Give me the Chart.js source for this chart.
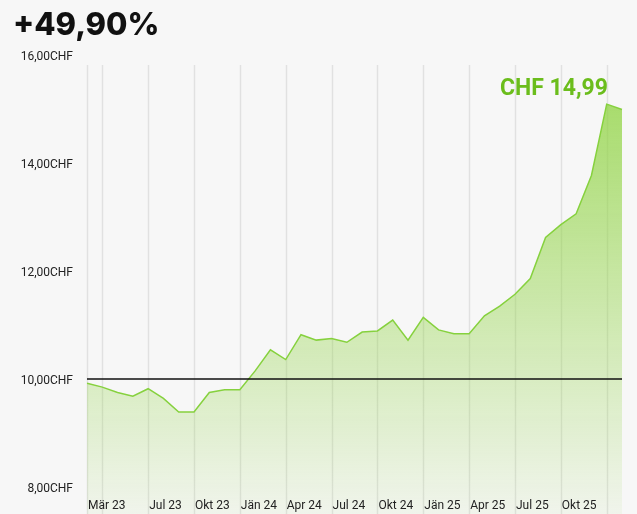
<!DOCTYPE html>
<html>
<head>
<meta charset="utf-8">
<script src="https://cdn.jsdelivr.net/npm/chart.js@4.4.1/dist/chart.umd.min.js"></script>
<style>
  html, body { margin: 0; padding: 0; background: #f7f7f7; }
  #wrap { position: relative; width: 637px; height: 514px; overflow: hidden; }
  canvas { position: absolute; left: 0; top: 0; }
</style>
</head>
<body>
<div id="wrap">
  <canvas id="chart" width="637" height="514"></canvas>
</div>
<script>
// monthly closing prices, Mär 23 .. Feb 26
const months = [
  "Mär 23", "Apr 23", "Mai 23", "Jun 23", "Jul 23", "Aug 23", "Sep 23", "Okt 23", "Nov 23", "Dez 23",
  "Jän 24", "Feb 24", "Mär 24", "Apr 24", "Mai 24", "Jun 24", "Jul 24", "Aug 24", "Sep 24", "Okt 24", "Nov 24", "Dez 24",
  "Jän 25", "Feb 25", "Mär 25", "Apr 25", "Mai 25", "Jun 25", "Jul 25", "Aug 25", "Sep 25", "Okt 25", "Nov 25", "Dez 25",
  "Jän 26", "Feb 26"
];
const prices = [
  9.92, 9.85, 9.75, 9.68, 9.82, 9.64, 9.39, 9.39, 9.75, 9.80,
  9.80, 10.15, 10.54, 10.36, 10.82, 10.72, 10.75, 10.68, 10.87, 10.89, 11.09, 10.72,
  11.14, 10.91, 10.84, 10.84, 11.17, 11.35, 11.57, 11.86, 12.62, 12.86, 13.06, 13.77,
  15.09, 14.99
];
const tickLabels = ["Mär 23", "Jul 23", "Okt 23", "Jän 24", "Apr 24", "Jul 24", "Okt 24", "Jän 25", "Apr 25", "Jul 25", "Okt 25"];
const gridMonths = ["Mär 23", "Apr 23", "Jul 23", "Okt 23", "Jän 24", "Apr 24", "Jul 24", "Okt 24", "Jän 25", "Apr 25", "Jul 25", "Okt 25", "Jän 26"];
const yTicks = [8, 10, 12, 14, 16];
const baseline = 10;
const title = "+49,90%";
const lastLabel = "CHF 14,99";

const green = "#86d13e";

// vertical month lines, baseline and the texts
const extras = {
  id: "extras",
  beforeDatasetsDraw(chart) {
    const { ctx, chartArea, scales } = chart;
    ctx.save();
    ctx.strokeStyle = "rgba(0,0,0,0.085)";
    ctx.lineWidth = 1.5;
    gridMonths.forEach(m => {
      const x = Math.round(scales.x.getPixelForValue(months.indexOf(m))) + 0.5;
      ctx.beginPath();
      ctx.moveTo(x, chartArea.top + 10);
      ctx.lineTo(x, chartArea.bottom);
      ctx.stroke();
    });
    ctx.restore();
  },
  afterDatasetsDraw(chart) {
    const { ctx, chartArea, scales } = chart;
    ctx.save();
    // 10 CHF reference line
    const y0 = scales.y.getPixelForValue(baseline);
    ctx.strokeStyle = "#111";
    ctx.lineWidth = 1.5;
    ctx.beginPath();
    ctx.moveTo(chartArea.left, y0);
    ctx.lineTo(chartArea.right, y0);
    ctx.stroke();

    // month labels inside the plot
    ctx.fillStyle = "#222";
    ctx.font = "12px Roboto, sans-serif";
    ctx.textAlign = "left";
    ctx.textBaseline = "alphabetic";
    tickLabels.forEach(m => {
      const x = scales.x.getPixelForValue(months.indexOf(m));
      ctx.fillText(m, x + 1, chartArea.bottom - 5);
    });

    // last value label
    const last = prices.length - 1;
    const lx = scales.x.getPixelForValue(last) - 14;
    const ly = scales.y.getPixelForValue(Math.max(...prices)) - 9;
    ctx.fillStyle = "#6bbd1c";
    ctx.font = "bold 23px Roboto, sans-serif";
    ctx.textAlign = "right";
    ctx.fillText(lastLabel, lx, ly);

    // headline
    ctx.fillStyle = "#111";
    ctx.font = "800 31px Inter, sans-serif";
    ctx.textAlign = "left";
    ctx.fillText(title, 13, 35);
    ctx.restore();
  }
};

new Chart(document.getElementById("chart"), {
  type: "line",
  data: {
    labels: months,
    datasets: [{
      data: prices,
      borderColor: green,
      borderWidth: 1.5,
      pointRadius: 0,
      tension: 0,
      fill: "start",
      backgroundColor: (c) => {
        const area = c.chart.chartArea;
        if (!area) return "rgba(140,210,60,0.3)";
        const g = c.chart.ctx.createLinearGradient(0, area.top, 0, area.bottom);
        g.addColorStop(0, "rgba(140,210,60,0.82)");
        g.addColorStop(1, "rgba(140,210,60,0.06)");
        return g;
      }
    }]
  },
  options: {
    responsive: false,
    animation: false,
    layout: { padding: { top: 55, right: 15, bottom: 0, left: 0 }, autoPadding: false },
    plugins: { legend: { display: false }, tooltip: { enabled: false } },
    scales: {
      x: {
        offset: false,
        ticks: { display: false },
        grid: { display: false, drawTicks: false },
        border: { display: false },
        afterFit(scale) { scale.height = 0; }
      },
      y: {
        min: 7.5,
        max: 16,
        grid: { display: false, drawTicks: false },
        border: { display: false },
        afterFit(scale) {
          scale.width = 87;
          scale.paddingTop = 0;
          scale.paddingBottom = 0;
        },
        afterBuildTicks(scale) { scale.ticks = yTicks.map(v => ({ value: v })); },
        ticks: {
          padding: 14,
          labelOffset: 2,
          color: "#222",
          font: { family: "Roboto", size: 12 },
          callback: v => v.toFixed(2).replace(".", ",") + "CHF"
        }
      }
    }
  },
  plugins: [extras]
});
</script>
</body>
</html>
